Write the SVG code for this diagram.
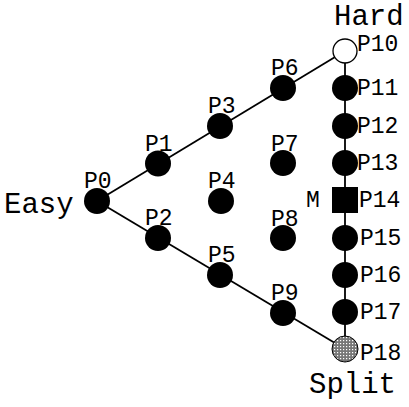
<svg xmlns="http://www.w3.org/2000/svg" width="409" height="407" viewBox="0 0 409 407">
<style>
text{font-family:"Liberation Mono","Courier New",monospace;fill:#000}
.lbl{font-size:23px}
.big{font-size:29px}
.n{fill:#000}
.e{stroke:#000;stroke-width:1.8;fill:none}
</style>
<defs>
<pattern id="dots" width="3" height="3" patternUnits="userSpaceOnUse">
<rect width="3" height="3" fill="#777"/>
<rect x="1" y="1" width="1.2" height="1.2" fill="#fff"/>
</pattern>
</defs>
<rect width="409" height="407" fill="#fff"/>
<g id="connectors">
<line class="e" x1="97" y1="201" x2="345" y2="51"/>
<line class="e" x1="97" y1="201" x2="345" y2="349"/>
<line class="e" x1="345" y1="51" x2="345" y2="349"/>
</g>
<text class="big" x="4" y="213">Easy</text>
<text class="big" x="334" y="25">Hard</text>
<text class="big" x="309" y="393">Split</text>
<g id="P0"><circle class="n" cx="97" cy="201" r="13"/><text class="lbl" x="84" y="188">P0</text></g>
<g id="P1"><circle class="n" cx="158" cy="163.5" r="13"/><text class="lbl" x="145" y="151">P1</text></g>
<g id="P2"><circle class="n" cx="158" cy="238" r="13"/><text class="lbl" x="145" y="225">P2</text></g>
<g id="P3"><circle class="n" cx="220" cy="126" r="13"/><text class="lbl" x="208" y="113">P3</text></g>
<g id="P4"><circle class="n" cx="221" cy="201" r="13"/><text class="lbl" x="208" y="188">P4</text></g>
<g id="P5"><circle class="n" cx="220" cy="275" r="13"/><text class="lbl" x="208" y="262">P5</text></g>
<g id="P6"><circle class="n" cx="283" cy="88" r="13"/><text class="lbl" x="271" y="75">P6</text></g>
<g id="P7"><circle class="n" cx="283" cy="163" r="13"/><text class="lbl" x="271" y="151">P7</text></g>
<g id="P8"><circle class="n" cx="283" cy="238" r="13"/><text class="lbl" x="271" y="226">P8</text></g>
<g id="P9"><circle class="n" cx="283" cy="313" r="13"/><text class="lbl" x="271" y="300">P9</text></g>
<g id="P10"><circle cx="345" cy="51" r="12" fill="#fff" stroke="#000" stroke-width="1.3"/><text class="lbl" x="357" y="51">P10</text></g>
<g id="P11"><circle class="n" cx="345" cy="88" r="13"/><text class="lbl" x="357" y="95">P11</text></g>
<g id="P12"><circle class="n" cx="345" cy="126" r="13"/><text class="lbl" x="357" y="133">P12</text></g>
<g id="P13"><circle class="n" cx="345" cy="163" r="13"/><text class="lbl" x="357" y="170">P13</text></g>
<g id="P14"><rect class="n" x="332" y="187" width="26" height="26"/><text class="lbl" x="359" y="207">P14</text><text class="lbl" x="306" y="207">M</text></g>
<g id="P15"><circle class="n" cx="345" cy="238" r="13"/><text class="lbl" x="360" y="245">P15</text></g>
<g id="P16"><circle class="n" cx="345" cy="275" r="13"/><text class="lbl" x="360" y="282">P16</text></g>
<g id="P17"><circle class="n" cx="345" cy="312" r="13"/><text class="lbl" x="360" y="319">P17</text></g>
<g id="P18"><circle cx="345" cy="349" r="13" fill="url(#dots)" stroke="#000" stroke-width="1"/><text class="lbl" x="360" y="360">P18</text></g>
</svg>
